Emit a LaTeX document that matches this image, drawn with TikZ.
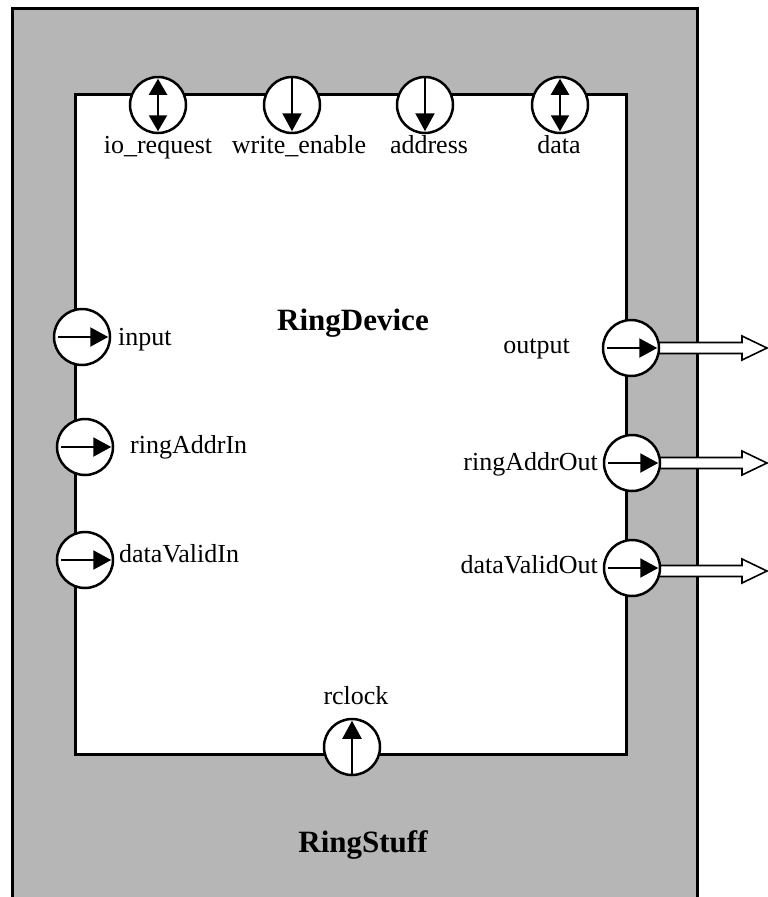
\documentclass[tikz,border=0pt]{standalone}
\usepackage{fontspec}
\setmainfont{Liberation Serif}
\usetikzlibrary{arrows.meta,calc}
\definecolor{dither}{RGB}{182,182,182}
\tikzset{
  port/.style={circle, draw, line width=2.5pt, fill=white, minimum size=56pt, inner sep=0pt},
  parr/.style={line width=2.2pt, -{Triangle[length=18pt,width=19pt]}},
  pbi/.style={line width=2.2pt, {Triangle[length=16pt,width=18pt]}-{Triangle[length=16pt,width=18pt]}},
  lbl/.style={font=\fontsize{26}{28}\selectfont, inner sep=0pt},
  ttl/.style={font=\fontsize{31}{34}\selectfont\bfseries, inner sep=0pt},
  hollow/.style={line width=1.6pt, fill=white, line join=miter},
  devbox/.style={draw, line width=2.6pt, fill=white, inner sep=0pt, anchor=north west},
}
\newcommand\hollowarrow[2]{%
  \draw[hollow] ($(#1)+(0,-5.5)$) -- ($(#2)+(-25,-5.5)$) -- ($(#2)+(-25,-12)$) -- (#2)
    -- ($(#2)+(-25,12)$) -- ($(#2)+(-25,5.5)$) -- ($(#1)+(0,5.5)$);}
\begin{document}
\begin{tikzpicture}[x=1pt,y=-1pt]
\useasboundingbox (0,0) rectangle (768,897);
% outer component
\fill[dither] (12,8) rectangle (697,897);
\draw[line width=3pt] (12,897) -- (12,8) -- (697,8) -- (697,897);
% inner device
\node[devbox, minimum width=551pt, minimum height=660pt] (dev) at (74,93) {};
\node[ttl, anchor=base] (devname) at (353,330) {RingDevice};
\node[ttl, anchor=base] (stuffname) at (363,852) {RingStuff};
% port centres
\coordinate (cio) at (158,105);
\coordinate (cwe) at (292,105);
\coordinate (cad) at (425,105);
\coordinate (cda) at (560,105);
\coordinate (cin) at (82,337);
\coordinate (cri) at (85,447);
\coordinate (cdi) at (85,560);
\coordinate (cou) at (631,348);
\coordinate (cro) at (632,463);
\coordinate (cdo) at (632,568);
\coordinate (crc) at (352,747);
% external hollow arrows
\coordinate (t1) at (767,348);
\coordinate (t2) at (767,463);
\coordinate (t3) at (767,571);
\hollowarrow{cou}{t1}
\hollowarrow{cro}{t2}
\hollowarrow{cdo |- t3}{t3}
% ports
\node[port] (io) at (cio) {};
\node[port] (we) at (cwe) {};
\node[port] (ad) at (cad) {};
\node[port] (da) at (cda) {};
\node[port] (in) at (cin) {};
\node[port] (ri) at (cri) {};
\node[port] (di) at (cdi) {};
\node[port] (ou) at (cou) {};
\node[port] (ro) at (cro) {};
\node[port] (do) at (cdo) {};
\node[port] (rc) at (crc) {};
% arrows inside ports
\draw[pbi] ($(io.north)+(0,3)$) -- ($(io.south)+(0,-3)$);
\draw[pbi] ($(da.north)+(0,3)$) -- ($(da.south)+(0,-3)$);
\draw[parr] (we.north) -- ($(we.south)+(0,-3)$);
\draw[parr] (ad.north) -- ($(ad.south)+(0,-3)$);
\draw[parr] ($(in.west)+(5,0)$) -- ($(in.east)+(-3,0)$);
\draw[parr] ($(ri.west)+(5,0)$) -- ($(ri.east)+(-3,0)$);
\draw[parr] ($(di.west)+(5,0)$) -- ($(di.east)+(-3,0)$);
\draw[parr] ($(ou.west)+(5,0)$) -- ($(ou.east)+(-3,0)$);
\draw[parr] ($(ro.west)+(5,0)$) -- ($(ro.east)+(-3,0)$);
\draw[parr] ($(do.west)+(5,0)$) -- ($(do.east)+(-3,0)$);
\draw[parr] (rc.south) -- ($(rc.north)+(0,3)$);
% labels
\node[lbl, anchor=base] (lio) at (158,153) {io\_request};
\node[lbl, anchor=base] (lwe) at (299,153) {write\_enable};
\node[lbl, anchor=base] (lad) at (429,153) {address};
\node[lbl, anchor=base] (lda) at (559,153) {data};
\node[lbl, anchor=base west] (lin) at (118,345) {input};
\node[lbl, anchor=base west] (lri) at (130,453) {ringAddrIn};
\node[lbl, anchor=base west] (ldi) at (119,562) {dataValidIn};
\node[lbl, anchor=base east] (lou) at (570,353) {output};
\node[lbl, anchor=base east] (lro) at (598,470) {ringAddrOut};
\node[lbl, anchor=base east] (ldo) at (598,573) {dataValidOut};
\node[lbl, anchor=base] (lrc) at (356,704) {rclock};
\end{tikzpicture}
\end{document}
